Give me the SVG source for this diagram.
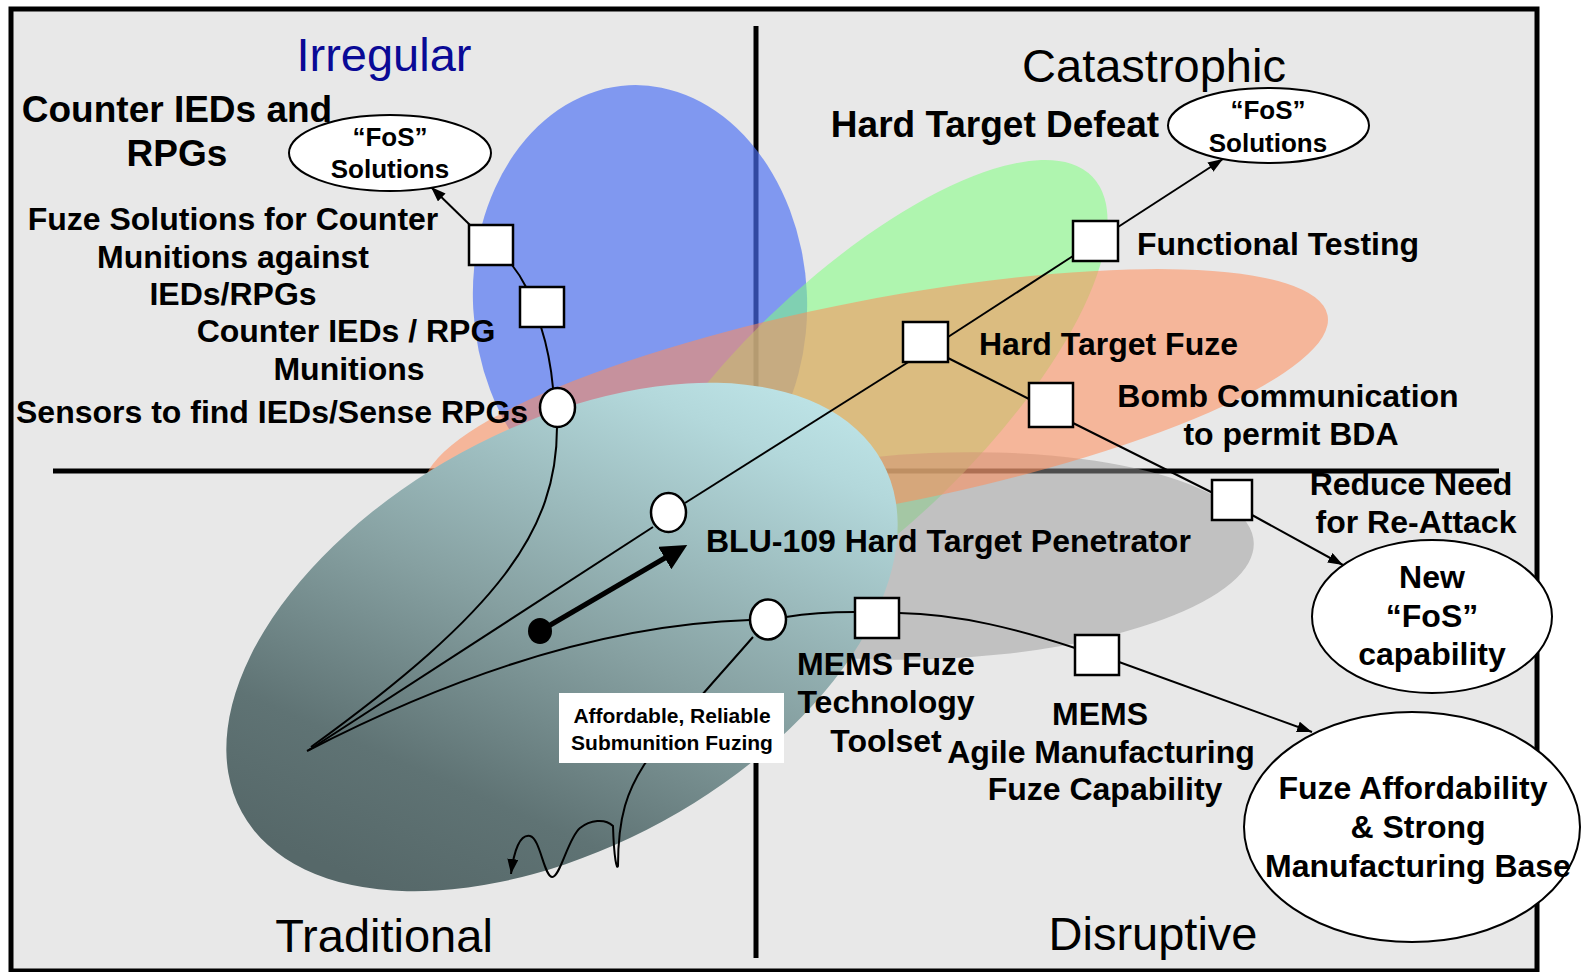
<svg xmlns="http://www.w3.org/2000/svg" width="1583" height="972" viewBox="0 0 1583 972">
<style>
  .t { font-family: "Liberation Sans", Arial, sans-serif; font-weight: bold; font-size: 32px; fill: #000; }
  .big { font-size: 37px; }
  .fos { font-size: 26px; }
  .small { font-size: 21px; }
  .title { font-family: "Liberation Sans", Arial, sans-serif; font-weight: normal; font-size: 47px; fill: #000; }
  .mid { text-anchor: middle; }
  .box { fill: #fff; stroke: #000; stroke-width: 2.5; }
  .ell { fill: #fff; stroke: #000; stroke-width: 2; }
  .con { fill: none; stroke: #000; stroke-width: 2; }
  .quad { stroke: #000; stroke-width: 5; }
</style>
<defs>
  <marker id="arr" viewBox="0 0 15 11" refX="15" refY="5.5" markerWidth="15" markerHeight="11" markerUnits="userSpaceOnUse" orient="auto">
    <path d="M0,0 L15,5.5 L0,11 z" fill="#000"/>
  </marker>
  <marker id="bigarr" viewBox="0 0 26 26" refX="13" refY="13" markerWidth="26" markerHeight="26" markerUnits="userSpaceOnUse" orient="auto">
    <path d="M0,0 L26,13 L0,26 z" fill="#000"/>
  </marker>
  <linearGradient id="teal" gradientUnits="userSpaceOnUse" x1="320" y1="820" x2="810" y2="440">
    <stop offset="0" stop-color="#566869"/>
    <stop offset="0.2" stop-color="#5f7374"/>
    <stop offset="0.5" stop-color="#86a0a1"/>
    <stop offset="0.9" stop-color="#b3d8db"/>
    <stop offset="1" stop-color="#bce2e5"/>
  </linearGradient>
</defs>

<rect x="0" y="0" width="1583" height="972" fill="#fff"/>
<rect x="11" y="9" width="1526" height="962" fill="#e8e8e8" stroke="#000" stroke-width="5"/>

<g id="quadrant-lines">
  <line class="quad" x1="756" y1="26" x2="756" y2="958"/>
  <line class="quad" x1="53" y1="471" x2="1499" y2="471"/>
</g>

<g id="regions">
  <ellipse cx="640" cy="300" rx="167" ry="215" transform="rotate(-3 640 300)" fill="#4a6ff5" fill-opacity="0.66"/>
  <ellipse cx="855" cy="406" rx="330" ry="124" transform="rotate(-44 855 406)" fill="#80ff80" fill-opacity="0.55"/>
  <ellipse cx="935" cy="556" rx="319" ry="103" transform="rotate(-2.4 935 556)" fill="#9a9a9a" fill-opacity="0.5"/>
  <ellipse cx="876" cy="403" rx="460" ry="103" transform="rotate(-11 876 403)" fill="#ff8c5a" fill-opacity="0.55"/>
  <ellipse cx="562" cy="637" rx="365" ry="210" transform="rotate(-28.7 562 637)" fill="url(#teal)"/>
</g>

<g id="titles">
  <text class="title mid" x="384" y="71" style="fill:#0a0a96">Irregular</text>
  <text class="title mid" x="1154" y="82">Catastrophic</text>
  <text class="title mid" x="384" y="952">Traditional</text>
  <text class="title mid" x="1153" y="950">Disruptive</text>
  <text class="t big mid" x="177" y="122">Counter IEDs and</text>
  <text class="t big mid" x="177" y="166">RPGs</text>
  <text class="t big mid" x="995" y="137">Hard Target Defeat</text>
</g>

<g id="connectors">
  <path class="con" d="M470,225 L431,187" marker-end="url(#arr)"/>
  <path class="con" d="M512,265 Q520,275 526,287"/>
  <path class="con" d="M541,327 Q550,355 553,388"/>
  <path class="con" d="M557,427 C557,530 500,610 311,747"/>
  <path class="con" d="M653,527 L309,750"/>
  <path class="con" d="M307,751 Q549,626 750,620"/>
  <path class="con" d="M685,503 L910,361"/>
  <path class="con" d="M948,337 L1073,256"/>
  <path class="con" d="M1118,227 L1223,159" marker-end="url(#arr)"/>
  <path class="con" d="M948,358 L1029,399"/>
  <path class="con" d="M1073,423 L1213,493"/>
  <path class="con" d="M1252,515 L1343,565" marker-end="url(#arr)"/>
  <path class="con" d="M786,617 C810,613 835,612 855,612"/>
  <path class="con" d="M899,613 C960,614 1020,630 1075,648"/>
  <path class="con" d="M1119,662 L1312,732" marker-end="url(#arr)"/>
  <path class="con" d="M753,637 C720,675 665,735 644,765 C628,790 618,815 618,866 C617,870 614,860 613,826 C605,818 590,820 580,828 C568,838 560,878 552,877 C544,876 540,838 530,836 C520,834 514,850 511,874" marker-end="url(#arr)"/>
  <line x1="540" y1="631" x2="676" y2="551.5" stroke="#000" stroke-width="5" marker-end="url(#bigarr)"/>
  <ellipse cx="540" cy="631" rx="12" ry="13" fill="#000"/>
</g>

<g id="n-fos-irregular">
  <ellipse class="ell" cx="390" cy="153" rx="101" ry="38"/>
  <text class="t fos mid" x="390" y="146">“FoS”</text>
  <text class="t fos mid" x="390" y="178">Solutions</text>
</g>
<g id="n-fuze-solutions">
  <rect class="box" x="469" y="225" width="44" height="40"/>
  <text class="t mid" x="233" y="230">Fuze Solutions for Counter</text>
  <text class="t mid" x="233" y="268">Munitions against</text>
  <text class="t mid" x="233" y="305">IEDs/RPGs</text>
</g>
<g id="n-counter-munitions">
  <rect class="box" x="520" y="287" width="44" height="40"/>
  <text class="t mid" x="346" y="342">Counter IEDs / RPG</text>
  <text class="t mid" x="349" y="380">Munitions</text>
</g>
<g id="n-sensors">
  <ellipse class="box" cx="557.5" cy="407.5" rx="17.5" ry="19.5"/>
  <text class="t" x="16" y="423">Sensors to find IEDs/Sense RPGs</text>
</g>
<g id="n-blu109">
  <ellipse class="box" cx="668.5" cy="512.5" rx="17.5" ry="19.5"/>
  <text class="t" x="706" y="552">BLU-109 Hard Target Penetrator</text>
</g>
<g id="n-hard-target-fuze">
  <rect class="box" x="903" y="322" width="45" height="40"/>
  <text class="t" x="979" y="355">Hard Target Fuze</text>
</g>
<g id="n-functional-testing">
  <rect class="box" x="1073" y="221" width="45" height="40"/>
  <text class="t" x="1137" y="255">Functional Testing</text>
</g>
<g id="n-fos-catastrophic">
  <ellipse class="ell" cx="1268.5" cy="125.5" rx="100.5" ry="37.5"/>
  <text class="t fos mid" x="1268" y="119">“FoS”</text>
  <text class="t fos mid" x="1268" y="152">Solutions</text>
</g>
<g id="n-bomb-comm">
  <rect class="box" x="1029" y="383" width="44" height="44"/>
  <text class="t mid" x="1288" y="407">Bomb Communication</text>
  <text class="t mid" x="1291" y="445">to permit BDA</text>
</g>
<g id="n-reduce-need">
  <rect class="box" x="1212" y="480" width="40" height="40"/>
  <text class="t mid" x="1411" y="495">Reduce Need</text>
  <text class="t mid" x="1416" y="533">for Re-Attack</text>
</g>
<g id="n-new-fos">
  <ellipse class="ell" cx="1432" cy="616.5" rx="120" ry="76.5"/>
  <text class="t mid" x="1432" y="588">New</text>
  <text class="t mid" x="1432" y="627">“FoS”</text>
  <text class="t mid" x="1432" y="665">capability</text>
</g>
<g id="n-mems-node">
  <ellipse class="box" cx="768" cy="619.5" rx="18" ry="20"/>
</g>
<g id="n-mems-fuze">
  <rect class="box" x="855" y="598" width="44" height="40"/>
  <text class="t mid" x="886" y="675">MEMS Fuze</text>
  <text class="t mid" x="886" y="713">Technology</text>
  <text class="t mid" x="886" y="752">Toolset</text>
</g>
<g id="n-mems-agile">
  <rect class="box" x="1075" y="635" width="44" height="40"/>
  <text class="t mid" x="1100" y="725">MEMS</text>
  <text class="t mid" x="1101" y="763">Agile Manufacturing</text>
  <text class="t mid" x="1105" y="800">Fuze Capability</text>
</g>
<g id="n-fuze-afford">
  <ellipse class="ell" cx="1412" cy="827" rx="168" ry="115"/>
  <text class="t mid" x="1413" y="799">Fuze Affordability</text>
  <text class="t mid" x="1418" y="838">&amp; Strong</text>
  <text class="t mid" x="1418" y="877">Manufacturing Base</text>
</g>
<g id="n-affordable-label">
  <rect x="559" y="693" width="225" height="70" fill="#fff"/>
  <text class="t small mid" x="672" y="723">Affordable, Reliable</text>
  <text class="t small mid" x="672" y="750">Submunition Fuzing</text>
</g>
</svg>
